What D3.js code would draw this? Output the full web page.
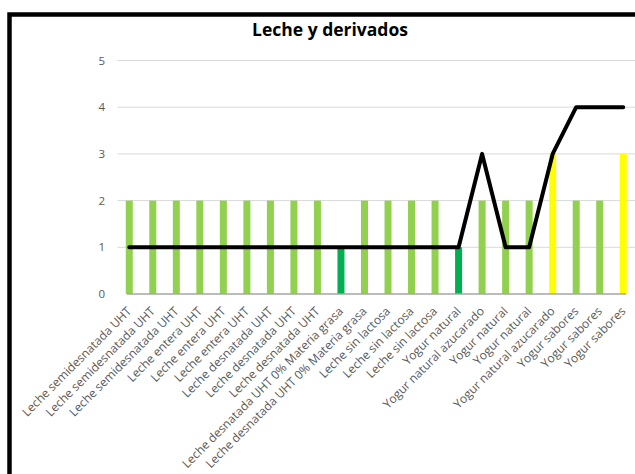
<!DOCTYPE html>
<html>
<head>
<meta charset="utf-8">
<script src="https://cdn.jsdelivr.net/npm/d3@7"></script>
<style>
  html, body { margin: 0; padding: 0; background: #fff; }
  svg { display: block; }
</style>
</head>
<body>
<svg id="chart" width="635" height="474"></svg>
<script>
// Productos lácteos analizados
const categorias = [
  "Leche semidesnatada UHT", "Leche semidesnatada UHT", "Leche semidesnatada UHT",
  "Leche entera UHT", "Leche entera UHT", "Leche entera UHT",
  "Leche desnatada UHT", "Leche desnatada UHT", "Leche desnatada UHT",
  "Leche desnatada UHT 0% Materia grasa", "Leche desnatada UHT 0% Materia grasa",
  "Leche sin lactosa", "Leche sin lactosa", "Leche sin lactosa",
  "Yogur natural", "Yogur natural azucarado", "Yogur natural", "Yogur natural",
  "Yogur natural azucarado", "Yogur sabores", "Yogur sabores", "Yogur sabores"
];

// Valor de cada barra
const valoresBarras = [2, 2, 2, 2, 2, 2, 2, 2, 2, 1, 2, 2, 2, 2, 1, 2, 2, 2, 3, 2, 2, 3];

// Valor de la línea
const valoresLinea = [1, 1, 1, 1, 1, 1, 1, 1, 1, 1, 1, 1, 1, 1, 1, 3, 1, 1, 3, 4, 4, 4];

// Nivel de cada barra (define su color)
const niveles = ["medio", "medio", "medio", "medio", "medio", "medio", "medio", "medio", "medio",
  "bajo", "medio", "medio", "medio", "medio", "bajo", "medio", "medio", "medio",
  "alto", "medio", "medio", "alto"];

const ticksY = [0, 1, 2, 3, 4, 5];

const colorNivel = { bajo: "#00B050", medio: "#92D050", alto: "#FFFF00" };

const svg = d3.select("#chart");
const font = "'Open Sans', sans-serif";

// Marco del gráfico
svg.append("rect")
  .attr("x", 9.5).attr("y", 14.5)
  .attr("width", 700).attr("height", 600)
  .attr("fill", "none").attr("stroke", "#000").attr("stroke-width", 4.5);

// Título
svg.append("text")
  .attr("x", 330).attr("y", 36)
  .attr("text-anchor", "middle")
  .attr("font-family", font).attr("font-weight", "bold")
  .attr("font-size", 17.5).attr("fill", "#000")
  .text("Leche y derivados");

const idx = categorias.map((d, i) => i);
const x = d3.scalePoint().domain(idx).range([117.5, 635]).padding(0.5);
const y = d3.scaleLinear().domain([0, 5]).range([294, 60.5]);

// Líneas de cuadrícula
svg.append("g")
  .selectAll("line")
  .data(ticksY.filter(t => t > 0))
  .join("line")
  .attr("x1", 117.5).attr("x2", 635)
  .attr("y1", d => y(d)).attr("y2", d => y(d))
  .attr("stroke", "#D9D9D9").attr("stroke-width", 1);

// Eje Y
const yAxis = svg.append("g")
  .attr("transform", "translate(105,0)")
  .call(d3.axisLeft(y).tickValues(ticksY).tickFormat(d3.format("d")).tickSize(0).tickPadding(0));
yAxis.select(".domain").remove();
yAxis.selectAll("text")
  .attr("font-family", font).attr("font-size", 11.5).attr("fill", "#595959");

// Barras
const barW = 7;
svg.append("g")
  .selectAll("rect")
  .data(valoresBarras)
  .join("rect")
  .attr("x", (d, i) => x(i) - barW / 2)
  .attr("width", barW)
  .attr("y", d => y(d))
  .attr("height", d => y(0) - y(d))
  .attr("fill", (d, i) => colorNivel[niveles[i]]);

// Línea base
svg.append("line")
  .attr("x1", 127).attr("x2", 626)
  .attr("y1", y(0)).attr("y2", y(0))
  .attr("stroke", "#A6A6A6").attr("stroke-width", 1.5);

// Línea
const linea = d3.line().x((d, i) => x(i)).y(d => y(d));
svg.append("path")
  .datum(valoresLinea)
  .attr("d", linea)
  .attr("fill", "none")
  .attr("stroke", "#000")
  .attr("stroke-width", 4)
  .attr("stroke-linecap", "round")
  .attr("stroke-linejoin", "round");

// Etiquetas del eje X
const xAxis = svg.append("g")
  .attr("transform", `translate(0,${y(0)})`)
  .call(d3.axisBottom(x).tickSize(0).tickPadding(0).tickFormat(i => categorias[i]));
xAxis.select(".domain").remove();
xAxis.selectAll("text")
  .attr("font-family", font).attr("font-size", 12).attr("fill", "#595959")
  .attr("text-anchor", "end")
  .attr("dy", null).attr("y", null)
  .attr("transform", "translate(2.5,18) rotate(-45)");
</script>
</body>
</html>
